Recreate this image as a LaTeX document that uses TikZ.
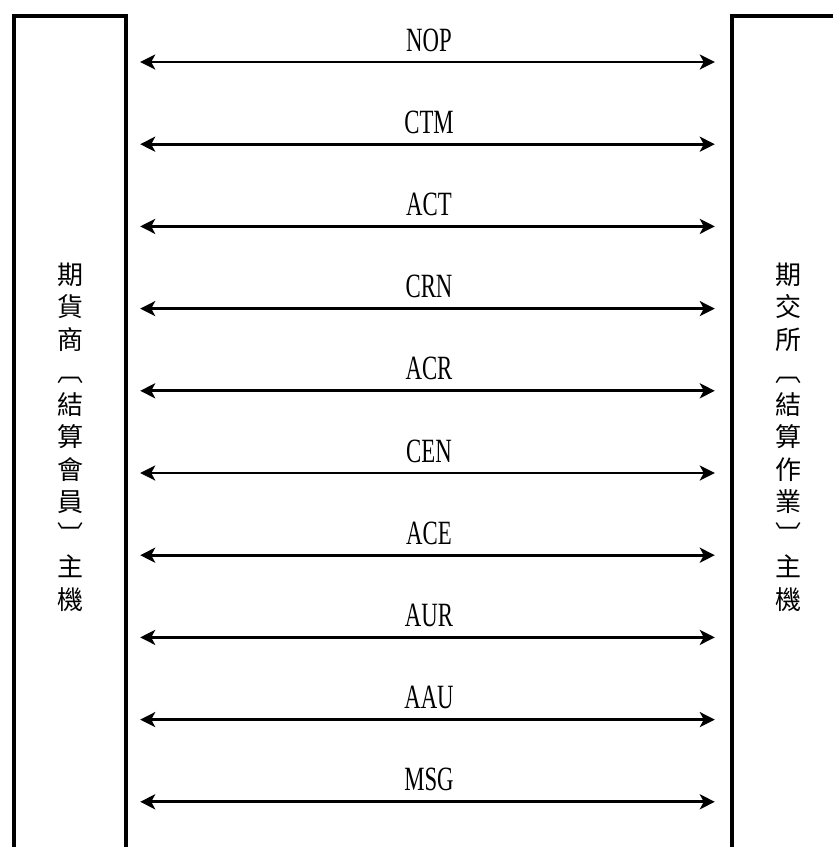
\documentclass[tikz,border=0pt]{standalone}
\usepackage{fontspec}
\newfontfamily\cjk{Noto Sans CJK TC}
\newfontfamily\lblfont[FakeStretch=0.67]{Liberation Serif}
\usetikzlibrary{arrows.meta}

\tikzset{
  host/.style={minimum width=112pt, minimum height=842pt, inner sep=0pt,
               align=center, font=\cjk\fontsize{26}{32.5}\selectfont},
  hostline/.style={line width=4pt},
  link/.style={line width=2.8pt, {Stealth[length=15pt,width=15pt,inset=4pt]}-{Stealth[length=15pt,width=15pt,inset=4pt]},
               shorten <=14pt, shorten >=17pt},
  msglabel/.style={midway, anchor=base, yshift=11pt, inner sep=0pt,
                   font=\lblfont\fontsize{34}{34}\selectfont}
}

\begin{document}
\begin{tikzpicture}[x=1pt, y=-1pt]
    \useasboundingbox (0,0) rectangle (833,847);
    \node[host] (member) at (70,437) {期\\貨\\商\\︹\\結\\算\\會\\員\\︺\\主\\機};
    \node[host] (exchange) at (788,437) {期\\交\\所\\︹\\結\\算\\作\\業\\︺\\主\\機};
    \draw[hostline] (member.south west) -- (member.north west) -- (member.north east) -- (member.south east);
    \draw[hostline] (exchange.south west) -- (exchange.north west) -- (exchange.north east);
    \foreach \msg [count=\i from 0] in {NOP,CTM,ACT,CRN,ACR,CEN,ACE,AUR,AAU,MSG} {
      \pgfmathsetmacro{\y}{62+82.2*\i}
      \draw[link] (member.east |- 0,\y) -- (exchange.west |- 0,\y) node[msglabel] {\msg};
    }
  \end{tikzpicture}
\end{document}
